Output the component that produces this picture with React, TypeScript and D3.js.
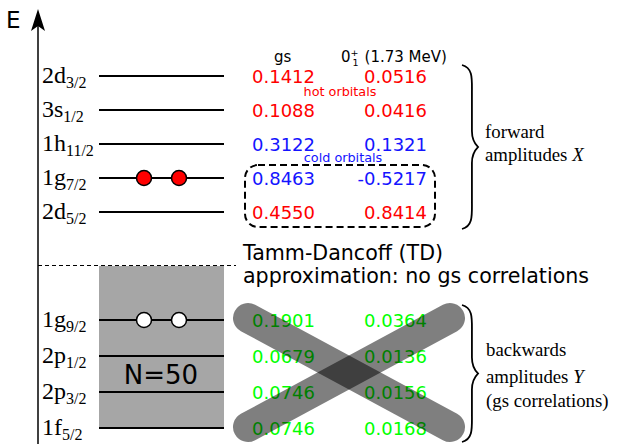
import React from "react";
import * as d3 from "d3";

// Single-particle orbitals above the N=50 shell gap (forward amplitudes X)
const upperOrbitals = [
  { n: "2d", j: "3/2" },
  { n: "3s", j: "1/2" },
  { n: "1h", j: "11/2" },
  { n: "1g", j: "7/2" },
  { n: "2d", j: "5/2" },
];
const upperGs = ["0.1412", "0.1088", "0.3122", "0.8463", "0.4550"];
const upperExc = ["0.0516", "0.0416", "0.1321", "-0.5217", "0.8414"];
const upperKind = ["hot", "hot", "cold", "cold", "hot"];

// Orbitals below the gap (backwards amplitudes Y)
const lowerOrbitals = [
  { n: "1g", j: "9/2" },
  { n: "2p", j: "1/2" },
  { n: "2p", j: "3/2" },
  { n: "1f", j: "5/2" },
];
const lowerGs = ["0.1901", "0.0679", "0.0746", "0.0746"];
const lowerExc = ["0.0364", "0.0136", "0.0156", "0.0168"];

// Pair occupation markers: two particles in 1g7/2, two holes in 1g9/2
const pairSlots = [0, 1];

const W = 617;
const H = 444;

const yUpper = d3.scalePoint<number>().domain(d3.range(upperOrbitals.length)).range([76, 212]);
const yLower = d3.scalePoint<number>().domain(d3.range(lowerOrbitals.length)).range([320, 428]);
const xPair = d3.scalePoint<number>().domain(pairSlots).range([144, 179]);

const levelX0 = 99;
const levelX1 = 224;
const colGs = 252;
const colExc = 427;

const serif = "'Liberation Serif', 'Times New Roman', serif";
const sans = "'DejaVu Sans', sans-serif";

const colorOf = (k: string) => (k === "hot" ? "#ff0000" : "#1414ff");

function OrbitalLabel({ n, j, y }: { n: string; j: string; y: number }) {
  return (
    <text x={42} y={y + 7} fontFamily={serif} fontSize={24} fill="#000">
      {n}
      <tspan fontSize={16} dy={5}>{j}</tspan>
    </text>
  );
}

// Curly brace opening to the left, tip pointing right
function bracePath(x: number, y0: number, y1: number, depth: number) {
  const ym = (y0 + y1) / 2;
  const b = x + depth * 0.62;
  const t = x + depth;
  return [
    `M${x},${y0}`,
    `C${x + depth * 0.7},${y0 + 3} ${b},${y0 + 14} ${b},${y0 + 28}`,
    `L${b},${ym - 16}`,
    `C${b},${ym - 6} ${t - 2},${ym - 2} ${t},${ym}`,
    `C${t - 2},${ym + 2} ${b},${ym + 6} ${b},${ym + 16}`,
    `L${b},${y1 - 28}`,
    `C${b},${y1 - 14} ${x + depth * 0.7},${y1 - 3} ${x},${y1}`,
  ].join(" ");
}

export default function App() {
  const xA = { x0: 248, y0: 318, x1: 450, y1: 427 };
  return (
    <svg width={W} height={H} style={{ position: "absolute", left: 0, top: 0 }}>
      <rect width={W} height={H} fill="#fff" />

      {/* energy axis */}
      <line x1={38} y1={24} x2={38} y2={H} stroke="#000" strokeWidth={1.5} />
      <path d="M38,9 L45,31 L38,26 L31,31 Z" fill="#000" />
      <text x={6} y={28} fontFamily={sans} fontSize={23}>E</text>

      {/* filled N=50 core */}
      <rect x={levelX0} y={266} width={levelX1 - levelX0} height={yLower(3)! - 266} fill="#a6a6a6" />
      <line x1={38} y1={265.5} x2={236} y2={265.5} stroke="#000" strokeWidth={1} strokeDasharray="4,3" />
      <text x={161} y={384} textAnchor="middle" fontFamily={sans} fontSize={26}>N=50</text>

      {/* upper levels */}
      {upperOrbitals.map((o, i) => (
        <g key={"u" + i}>
          <line x1={levelX0} x2={levelX1} y1={yUpper(i)} y2={yUpper(i)} stroke="#000" strokeWidth={2} />
          <OrbitalLabel n={o.n} j={o.j} y={yUpper(i)!} />
          <text x={colGs} y={yUpper(i)! + 6.5} fontFamily={sans} fontSize={18} fill={colorOf(upperKind[i])}>
            {upperGs[i]}
          </text>
          <text x={colExc} y={yUpper(i)! + 6.5} textAnchor="end" fontFamily={sans} fontSize={18} fill={colorOf(upperKind[i])}>
            {upperExc[i]}
          </text>
        </g>
      ))}

      {/* lower levels */}
      {lowerOrbitals.map((o, i) => (
        <g key={"l" + i}>
          <line x1={levelX0} x2={levelX1} y1={yLower(i)} y2={yLower(i)} stroke="#000" strokeWidth={2} />
          <OrbitalLabel n={o.n} j={o.j} y={yLower(i)!} />
          <text x={colGs} y={yLower(i)! + 6.5} fontFamily={sans} fontSize={18} fill="#00ff00">
            {lowerGs[i]}
          </text>
          <text x={colExc} y={yLower(i)! + 6.5} textAnchor="end" fontFamily={sans} fontSize={18} fill="#00ff00">
            {lowerExc[i]}
          </text>
        </g>
      ))}

      {/* particles and holes */}
      {pairSlots.map((s) => (
        <g key={"p" + s}>
          <circle cx={xPair(s)} cy={yUpper(3)} r={7.5} fill="#ff0000" stroke="#000" strokeWidth={1.5} />
          <circle cx={xPair(s)} cy={yLower(0)} r={7.5} fill="#fff" stroke="#000" strokeWidth={1.5} />
        </g>
      ))}

      {/* column headers */}
      <text x={274} y={62} fontFamily={sans} fontSize={15}>gs</text>
      <text x={341} y={62} fontFamily={sans} fontSize={15}>
        0
        <tspan fontSize={9.5} dy={-6}>+</tspan>
        <tspan fontSize={9.5} dx={-6} dy={10}>1</tspan>
        <tspan dx={6} dy={-4}>(1.73 MeV)</tspan>
      </text>
      <text x={340} y={96} textAnchor="middle" fontFamily={sans} fontSize={12.8} fill="#ff0000">hot orbitals</text>
      <text x={343} y={162} textAnchor="middle" fontFamily={sans} fontSize={12.8} fill="#1414ff">cold orbitals</text>

      {/* dashed frame around the dominant pair */}
      <rect x={245} y={165} width={190} height={62} rx={13} ry={13} fill="none" stroke="#000" strokeWidth={2} strokeDasharray="7,4" />

      {/* Tamm-Dancoff note */}
      <text x={243} y={260} fontFamily={sans} fontSize={20.6}>Tamm-Dancoff (TD)</text>
      <text x={243} y={283} fontFamily={sans} fontSize={20.6}>approximation: no gs correlations</text>

      {/* strike-through cross over backwards amplitudes */}
      <g stroke="#000" strokeOpacity={0.5} strokeWidth={30} strokeLinecap="round">
        <line x1={xA.x0} y1={xA.y0} x2={xA.x1} y2={xA.y1} />
        <line x1={xA.x0} y1={xA.y1} x2={xA.x1} y2={xA.y0} />
      </g>

      {/* braces */}
      <path d={bracePath(462, 65, 229, 16)} fill="none" stroke="#000" strokeWidth={1.8} />
      <text x={485} y={138} fontFamily={serif} fontSize={18.8}>forward</text>
      <text x={485} y={161} fontFamily={serif} fontSize={18.8}>
        amplitudes <tspan fontStyle="italic">X</tspan>
      </text>

      <path d={bracePath(462, 305, 442, 16)} fill="none" stroke="#000" strokeWidth={1.8} />
      <text x={486} y={356} fontFamily={serif} fontSize={18.8}>backwards</text>
      <text x={486} y={383} fontFamily={serif} fontSize={18.8}>
        amplitudes <tspan fontStyle="italic">Y</tspan>
      </text>
      <text x={486} y={407} fontFamily={serif} fontSize={18.8}>(gs correlations)</text>
    </svg>
  );
}
